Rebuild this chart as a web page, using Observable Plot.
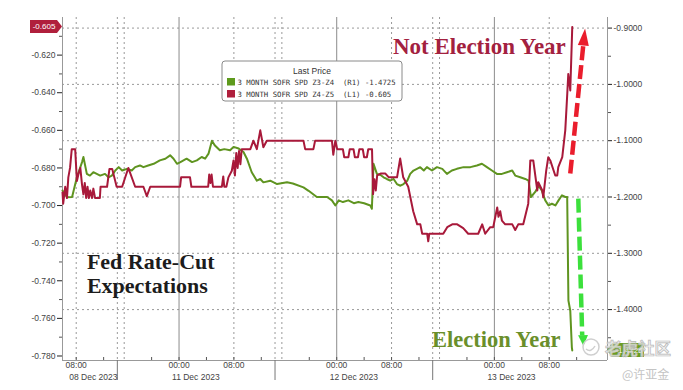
<!DOCTYPE html>
<html><head><meta charset="utf-8">
<script src="https://cdn.jsdelivr.net/npm/d3@7"></script>
<script src="https://cdn.jsdelivr.net/npm/@observablehq/plot@0.6"></script>
<style>body{margin:0;background:#fff;} #chart{width:683px;height:390px;}</style>
</head><body><div id="chart"></div>
<script>
// ---- data (x = trading hours since 06:00 08 Dec 2023, session breaks removed) ----
const redT = [0,0.1,0.4,0.65,0.85,1.1,1.35,1.85,2.1,2.35,2.6,2.85,3.05,3.25,3.45,3.65,3.85,4.05,4.3,4.5,4.75,5.45,5.55,6.5,6.85,7.25,7.9,8.7,9.6,10.6,11.8,12.3,12.8,17.15,17.3,18.6,18.8,21.25,21.4,21.6,21.75,21.95,23.25,23.45,23.6,23.9,24.2,24.7,24.95,25.15,25.35,25.55,25.75,25.95,26.15,27.4,27.85,28.35,28.85,29.3,29.8,35.15,35.4,36.6,36.85,39.3,39.5,39.8,40.07,40.9,41.1,41.7,41.9,42.45,42.65,43.1,43.3,43.8,44.0,44.4,44.6,45.15,45.3,45.5,45.7,45.9,46.4,47.1,47.6,48.8,49.26,49.7,50.43,51.16,51.74,52.2,52.47,53.2,53.35,53.5,55.54,56.12,56.85,57.58,58.45,59.18,60.64,61.22,61.66,62.39,62.83,63.41,63.6,63.85,64.1,64.58,65.61,66.04,66.48,67.21,67.94,68.24,68.67,69.26,69.4,69.99,70.13,70.56,70.86,71.15,71.88,72.17,72.32,72.9,73.34,73.63,73.78,74.07,74.36];
const redV = [-0.693,-0.699,-0.690,-0.696,-0.685,-0.680,-0.670,-0.670,-0.687,-0.683,-0.680,-0.689,-0.694,-0.688,-0.696,-0.690,-0.696,-0.692,-0.696,-0.691,-0.696,-0.696,-0.690,-0.690,-0.6805,-0.6805,-0.690,-0.690,-0.680,-0.690,-0.690,-0.695,-0.690,-0.690,-0.685,-0.685,-0.690,-0.690,-0.6835,-0.688,-0.6835,-0.690,-0.690,-0.6845,-0.690,-0.690,-0.685,-0.6815,-0.676,-0.684,-0.672,-0.680,-0.671,-0.678,-0.670,-0.670,-0.6655,-0.670,-0.660,-0.669,-0.6655,-0.6655,-0.670,-0.670,-0.6655,-0.6655,-0.673,-0.6655,-0.670,-0.670,-0.6743,-0.6743,-0.670,-0.670,-0.6743,-0.6743,-0.670,-0.670,-0.6743,-0.6743,-0.670,-0.670,-0.694,-0.686,-0.692,-0.684,-0.683,-0.683,-0.685,-0.685,-0.675,-0.685,-0.690,-0.703,-0.710,-0.710,-0.715,-0.715,-0.719,-0.715,-0.715,-0.7115,-0.710,-0.710,-0.712,-0.715,-0.715,-0.710,-0.715,-0.7115,-0.7115,-0.701,-0.706,-0.703,-0.708,-0.710,-0.710,-0.713,-0.710,-0.710,-0.699,-0.676,-0.676,-0.692,-0.6876,-0.692,-0.6956,-0.6814,-0.6743,-0.676,-0.684,-0.684,-0.6796,-0.6743,-0.660,-0.6406,-0.630,-0.6388,-0.605];
const greenT = [0,0.65,1.4,2.1,2.85,3.05,3.55,4.0,4.5,5.5,6.2,6.7,7.2,7.7,8.2,8.7,9.4,10.1,10.6,11.3,11.8,12.5,13.3,14.2,15.0,15.7,16.2,16.7,17.2,18.1,18.9,19.6,20.3,20.8,21.3,21.8,22.2,22.95,23.6,24.45,24.95,25.7,26.4,26.9,27.6,28.35,28.85,29.3,30.3,31.3,32.75,33.6,35.15,35.9,37.1,38.6,39.3,39.8,40.3,40.9,41.7,42.5,43.15,44.0,44.9,45.13,45.37,45.86,46.4,46.83,47.3,47.8,48.3,48.78,49.3,49.74,50.3,50.72,51.2,51.7,52.18,52.7,53.16,53.9,54.62,55.4,56.08,56.8,57.53,58.5,59.5,60.45,61.18,61.91,62.64,63.37,64.1,64.83,65.6,66.04,66.77,67.5,67.98,68.33,68.96,69.44,69.93,70.42,70.9,71.39,71.9,72.36,72.86,73.34,73.62,73.8,74.07,74.3,74.36];
const greenV = [-1.1885,-1.2004,-1.200,-1.165,-1.138,-1.129,-1.159,-1.162,-1.156,-1.162,-1.159,-1.165,-1.162,-1.153,-1.147,-1.153,-1.150,-1.153,-1.147,-1.144,-1.147,-1.144,-1.141,-1.135,-1.132,-1.126,-1.132,-1.141,-1.138,-1.132,-1.138,-1.135,-1.129,-1.132,-1.123,-1.100,-1.108,-1.117,-1.115,-1.117,-1.111,-1.114,-1.120,-1.132,-1.156,-1.171,-1.168,-1.174,-1.171,-1.177,-1.174,-1.176,-1.183,-1.189,-1.200,-1.200,-1.206,-1.215,-1.206,-1.209,-1.206,-1.211,-1.209,-1.211,-1.215,-1.221,-1.141,-1.159,-1.161,-1.165,-1.168,-1.171,-1.168,-1.177,-1.180,-1.177,-1.171,-1.159,-1.153,-1.150,-1.147,-1.153,-1.147,-1.153,-1.147,-1.150,-1.159,-1.153,-1.150,-1.147,-1.147,-1.144,-1.141,-1.147,-1.153,-1.159,-1.159,-1.156,-1.153,-1.162,-1.165,-1.168,-1.171,-1.200,-1.191,-1.180,-1.189,-1.206,-1.215,-1.212,-1.215,-1.206,-1.197,-1.200,-1.200,-1.384,-1.402,-1.467,-1.4725];

const seriesNames = ["3 MONTH SOFR SPD Z3-Z4", "3 MONTH SOFR SPD Z4-Z5"];
const seriesAxes = ["(R1)", "(L1)"];
const lastValues = [-1.4725, -0.605];
const leftTicks = [-0.62,-0.64,-0.66,-0.68,-0.70,-0.72,-0.74,-0.76,-0.78];
const leftMinorTicks = [-0.61,-0.63,-0.65,-0.67,-0.69,-0.71,-0.73,-0.75,-0.77];
const rightTicks = [-0.9,-1.0,-1.1,-1.2,-1.3,-1.4];
const rightMinorTicks = [-0.95,-1.05,-1.15,-1.25,-1.35,-1.45];
const timeTicks = [2,17,25,40,48,63,71];
const timeLabels = ["08:00","00:00","08:00","00:00","08:00","00:00","08:00"];
const dateTicks = [2,17,40,63];
const dateLabels = ["08 Dec 2023","11 Dec 2023","12 Dec 2023","13 Dec 2023"];
const midnightT = [17,40,63];
const gridT = [2,8,9,25,31,32,48,54,55,71];
const sessionBreakT = [8,31,54];
const minorTimeT = [2,6,13,17,21,25,29,36,40,44,48,52,59,63,67,71,75];

const xDomain = [0, 79.5];
const yLeftDomain = [-0.7824, -0.600];
const yRightDomain = [-1.4904, -0.8812];
const toLeft = v => yLeftDomain[0] + (v - yRightDomain[0]) * (yLeftDomain[1] - yLeftDomain[0]) / (yRightDomain[1] - yRightDomain[0]);
const toRight = v => yRightDomain[0] + (v - yLeftDomain[0]) * (yRightDomain[1] - yRightDomain[0]) / (yLeftDomain[1] - yLeftDomain[0]);

const notes = [
  {text: "Not Election Year", t: 48.2, v: -0.6193, color: "#a3213f", size: 23},
  {text: "Election Year", t: 53.9, v: -0.775, color: "#6a8f2b", size: 22.5},
  {text: "Fed Rate-Cut", t: 3.56, v: -0.7335, color: "#1c1c1c", size: 22},
  {text: "Expectations", t: 3.56, v: -0.7463, color: "#1c1c1c", size: 22}
];
const upArrow = [{t1: 74.07, v1: -0.683, t2: 75.96, v2: -0.6149, ht: 76.1, hv: -0.6104}];
const downArrow = [{t1: 75.24, v1: -0.6963, t2: 75.81, v2: -0.7691, ht: 75.96, hv: -0.7718}];

const redData = redT.map((t, i) => ({t, v: redV[i]}));
const greenData = greenT.map((t, i) => ({t, v: toLeft(greenV[i])}));

function tri(aspect) {
  return {draw(ctx, size) {
    const h = Math.sqrt(size / Math.PI) * 2, w = h * aspect;
    ctx.moveTo(0, -h / 2); ctx.lineTo(w / 2, h / 2); ctx.lineTo(-w / 2, h / 2); ctx.closePath();
  }};
}

const RED = "#a8193a", GREEN = "#5f9420";
const chart = Plot.plot({
  width: 683, height: 390,
  marginLeft: 62, marginRight: 76, marginTop: 17, marginBottom: 30,
  x: {domain: xDomain, label: null},
  y: {domain: yLeftDomain, label: null},
  style: {fontFamily: "'Liberation Sans', Arial, sans-serif", fontSize: "8.5px", color: "#444", background: "#fff"},
  marks: [
    Plot.ruleY(rightTicks.map(toLeft), {stroke: "#999", strokeDasharray: "2,3", strokeWidth: 1}),
    Plot.ruleX(gridT, {stroke: "#999", strokeDasharray: "2,3", strokeWidth: 1}),
    Plot.ruleX(midnightT, {stroke: "#8c8c8c", strokeWidth: 1}),
    Plot.ruleX([xDomain[0], xDomain[1]], {stroke: "#999", strokeWidth: 1}),
    Plot.ruleY([yLeftDomain[0]], {stroke: "#999", strokeWidth: 1}),
    Plot.ruleX(minorTimeT, {stroke: "#555", insetTop: 340}),
    Plot.axisX(sessionBreakT, {tickSize: 20, tickFormat: () => "", stroke: "#777"}),
    Plot.axisY(leftTicks, {anchor: "left", tickSize: 5, tickPadding: 2, tickFormat: d => d.toFixed(3), stroke: "#222", fill: "#444", label: null}),
    Plot.axisY(leftMinorTicks, {anchor: "left", tickSize: 3, tickFormat: () => "", stroke: "#555", label: null}),
    Plot.axisY(rightTicks.map(toLeft), {anchor: "right", tickSize: 4, tickPadding: 2, tickFormat: d => toRight(d).toFixed(4), stroke: "#222", fill: "#444", label: null}),
    Plot.axisY(rightMinorTicks.map(toLeft), {anchor: "right", tickSize: 3, tickFormat: () => "", stroke: "#555", label: null}),
    Plot.text(timeTicks, {x: d => d, text: (d, i) => timeLabels[i], frameAnchor: "bottom", lineAnchor: "top", dy: 1, fill: "#444"}),
    Plot.text(dateTicks, {x: d => d, text: (d, i) => dateLabels[i], frameAnchor: "bottom", lineAnchor: "top", textAnchor: "start", dx: -7, dy: 13, fill: "#444"}),
    Plot.line(greenData, {x: "t", y: "v", stroke: GREEN, strokeWidth: 2, strokeLinejoin: "round"}),
    Plot.line(redData, {x: "t", y: "v", stroke: RED, strokeWidth: 2, strokeLinejoin: "round"}),
    Plot.link(upArrow, {x1: "t1", y1: "v1", x2: "t2", y2: "v2", stroke: "#ea1d2c", strokeWidth: 4.5, strokeDasharray: "14,5"}),
    Plot.dot(upArrow, {x: "ht", y: "hv", r: 8.5, symbol: tri(0.65), rotate: 6, fill: "#ea1d2c", stroke: "none"}),
    Plot.link(downArrow, {x1: "t1", y1: "v1", x2: "t2", y2: "v2", stroke: "#3ce03c", strokeWidth: 4.5, strokeDasharray: "14,5"}),
    Plot.dot(downArrow, {x: "ht", y: "hv", r: 5.5, symbol: tri(0.9), rotate: 178, fill: "#3ce03c", stroke: "none"}),
    Plot.text(notes, {x: "t", y: "v", text: "text", fill: "color", fontSize: "size", textAnchor: "start", lineAnchor: "bottom",
      fontFamily: "'Liberation Serif', 'Times New Roman', serif", fontWeight: "bold"})
  ]
});
document.getElementById("chart").appendChild(chart);

// ---- overlays drawn with the chart's own scales ----
const svg = d3.select(chart);
const ys = chart.scale("y"), xs = chart.scale("x");
const xL = xs.apply(xDomain[0]), xR = xs.apply(xDomain[1]);
const SANS = "'Liberation Sans', Arial, sans-serif";

// last value tag, left (red)
const yRed = ys.apply(lastValues[1]);
svg.append("path").attr("d", `M${xL - 32},${yRed - 6.5} h27 l5,6.5 l-5,6.5 h-27 z`).attr("fill", "#b01f3c");
svg.append("text").attr("x", xL - 18).attr("y", yRed + 3).attr("text-anchor", "middle")
  .attr("fill", "#fff").attr("font-size", 8).attr("font-family", SANS)
  .text(lastValues[1].toFixed(3));

// last value tag, right (green)
const yGreen = ys.apply(toLeft(lastValues[0]));
svg.append("path").attr("d", `M${xR},${yGreen} l5,-7 h32 v14 h-32 z`).attr("fill", "#6a9d22");
svg.append("text").attr("x", xR + 22).attr("y", yGreen + 3).attr("text-anchor", "middle")
  .attr("fill", "#fff").attr("font-size", 8).attr("font-family", SANS)
  .text(lastValues[0].toFixed(4));

// legend box
const lg = svg.append("g").attr("transform", "translate(222,61)");
lg.append("rect").attr("width", 180).attr("height", 40).attr("rx", 3).attr("fill", "#fff").attr("stroke", "#8a8a8a");
lg.append("text").attr("x", 90).attr("y", 13).attr("text-anchor", "middle").attr("fill", "#333")
  .attr("font-size", 8.5).attr("font-family", SANS).text("Last Price");
[GREEN, RED].forEach((c, i) => {
  lg.append("rect").attr("x", 5).attr("y", 17 + i * 12).attr("width", 8).attr("height", 7.5).attr("fill", c === GREEN ? "#5e9a1c" : "#b01f3c");
  lg.append("text").attr("x", 15.5).attr("y", 23.8 + i * 12).attr("fill", "#333").attr("text-anchor", "start")
    .attr("font-size", 7.3).attr("font-family", "'DejaVu Sans Mono', monospace").style("white-space", "pre")
    .text(`${seriesNames[i]}  ${seriesAxes[i]} ${i === 0 ? lastValues[i].toFixed(4) : lastValues[i].toFixed(3)}`);
});

// watermark
svg.append("circle").attr("cx", 591).attr("cy", 347).attr("r", 8).attr("fill", "none").attr("stroke", "#cfcfcf").attr("stroke-width", 1.5);
svg.append("path").attr("d", "M586,349 q5,4 9,-3").attr("fill", "none").attr("stroke", "#cfcfcf").attr("stroke-width", 1.5);
svg.append("text").attr("x", 605).attr("y", 355).attr("font-size", 16.5).attr("font-weight", "bold").attr("text-anchor", "start")
  .attr("font-family", "'Noto Sans CJK SC', sans-serif").attr("fill", "rgba(238,238,238,0.8)")
  .attr("stroke", "#b8b8b8").attr("stroke-width", 0.7).text("老虎社区");
svg.append("text").attr("x", 622).attr("y", 379).attr("font-size", 12).attr("text-anchor", "start")
  .attr("font-family", "'Noto Sans CJK SC', sans-serif").attr("fill", "#c4c4c4").text("@许亚金");
</script></body></html>
